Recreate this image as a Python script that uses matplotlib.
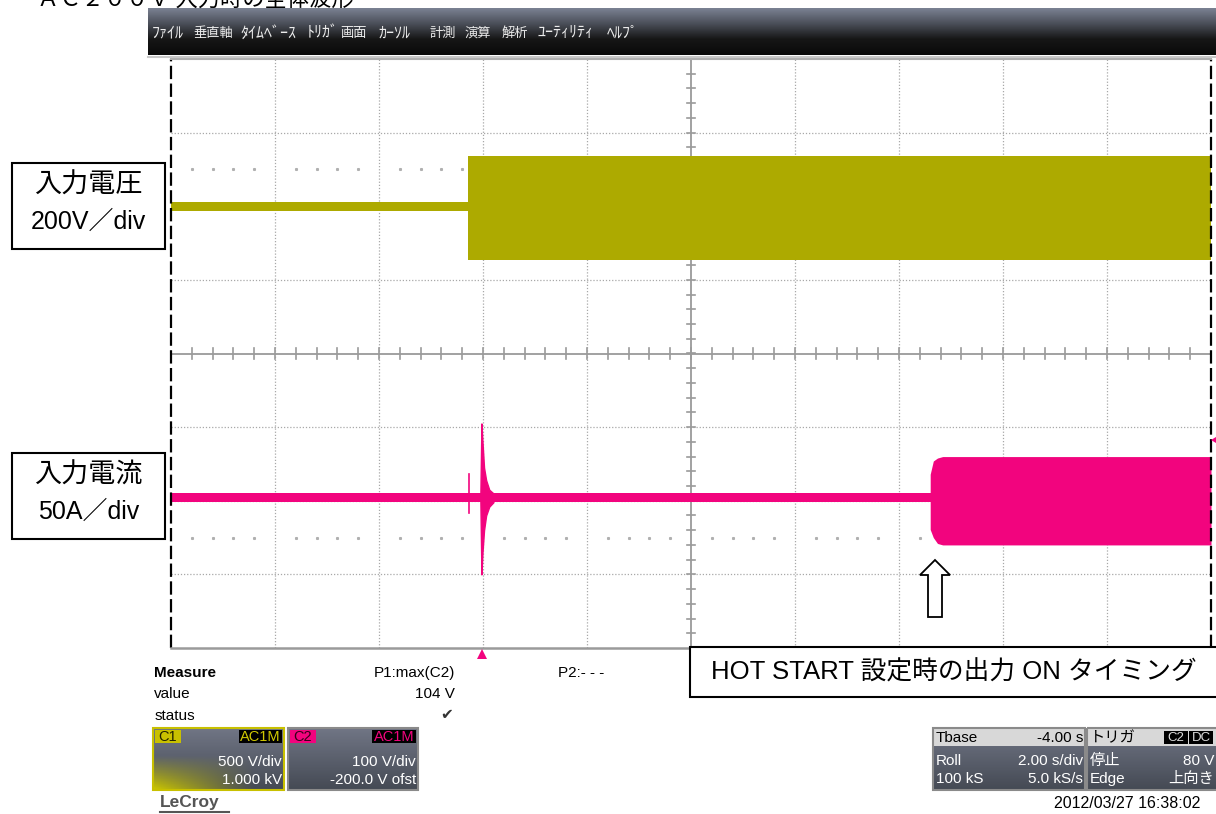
import numpy as np
import matplotlib.pyplot as plt
from matplotlib.patches import Rectangle, Polygon
from matplotlib.colors import LinearSegmentedColormap

plt.rcParams['font.family'] = ['Liberation Sans', 'Noto Sans CJK JP', 'DejaVu Sans']

W, H = 1216, 814

# C1 入力電圧 (単位: div)
volt_t = [0.0, 2.86, 2.86, 10.0]
volt_hi = [2.06, 2.06, 2.68, 2.68]
volt_lo = [1.94, 1.94, 1.27, 1.27]

# C2 入力電流 (単位: div)
curr_base_t = [0.0, 7.31]
curr_base_hi = [-1.90, -1.90]
curr_base_lo = [-2.02, -2.02]
pre_spike_t = 2.865
pre_spike_range = [-2.17, -1.64]
spike_t = [2.975, 2.985, 2.995, 3.01, 3.03, 3.06, 3.10]
spike_hi = [-1.90, -0.95, -1.20, -1.55, -1.72, -1.85, -1.90]
spike_lo = [-2.02, -3.00, -2.70, -2.40, -2.20, -2.08, -2.02]
curr_t = [7.30, 7.33, 7.37, 7.42, 10.0]
curr_hi = [-1.64, -1.46, -1.42, -1.40, -1.40]
curr_lo = [-2.39, -2.50, -2.58, -2.60, -2.60]

# 画面の文字
title = "ＡＣ２００Ｖ 入力時の全体波形"
menu_items = ["ﾌｧｲﾙ", "垂直軸", "ﾀｲﾑﾍﾞｰｽ", "ﾄﾘｶﾞ", "画面", "ｶｰｿﾙ", "計測", "演算", "解析", "ﾕｰﾃｨﾘﾃｨ", "ﾍﾙﾌﾟ"]
menu_x = [152, 193, 240, 307, 340, 379, 430, 465, 502, 538, 607]

c1 = '#ADAA00'
c2 = '#F2047E'

fig = plt.figure(figsize=(W / 100, H / 100), dpi=100)
fig.patch.set_facecolor('white')

# 波形エリア
ax = fig.add_axes([171 / W, (H - 648) / H, 1040 / W, 589 / H])
ax.set_xlim(0, 10)
ax.set_ylim(-4, 4)
ax.axis('off')

gcol = '#a8a8a8'
for i in range(1, 10):
    if i != 5:
        ax.axvline(i, color=gcol, ls=(0, (1, 1.5)), lw=0.9, zorder=1)
for j in range(-3, 4):
    if j != 0:
        ax.axhline(j, color=gcol, ls=(0, (1, 1.5)), lw=0.9, zorder=1)
ax.axhline(0, color='#9a9a9a', lw=1.3, zorder=1)
ax.axvline(5, color='#9a9a9a', lw=1.3, zorder=1)
for t in np.arange(0.2, 10, 0.2):
    ax.plot([t, t], [-0.07, 0.07], color='#9a9a9a', lw=1.2, zorder=1)
for t in np.arange(-3.8, 4, 0.2):
    ax.plot([4.96, 5.04], [t, t], color='#9a9a9a', lw=1.2, zorder=1)
dots = [x for x in np.arange(0.2, 10, 0.2) if abs(x - round(x)) > 0.05]
for yy in (2.5, -2.5):
    ax.plot(dots, [yy] * len(dots), ls='none', marker='s', ms=1.2, color='#b0b0b0', zorder=1)

ax.plot([0, 0], [-4, 4], color='k', ls=(0, (6, 2)), lw=1.6, clip_on=False, zorder=3)
ax.plot([10, 10], [-4, 4], color='k', ls=(0, (6, 2)), lw=1.6, clip_on=False, zorder=3)
ax.plot([0, 10], [4, 4], color='#b0b0b0', lw=1.5, clip_on=False, zorder=3)
ax.plot([0, 10], [-4, -4], color='#9a9a9a', lw=1.8, clip_on=False, zorder=3)

# 波形
ax.fill_between(volt_t, volt_lo, volt_hi, color=c1, lw=0, zorder=2)
ax.fill_between(curr_base_t, curr_base_lo, curr_base_hi, color=c2, lw=0, zorder=2)
ax.plot([pre_spike_t, pre_spike_t], pre_spike_range, color=c2, lw=1.2, zorder=2)
ax.fill_between(spike_t, spike_lo, spike_hi, color=c2, lw=1.0, ec=c2, zorder=2)
ax.fill_between(curr_t, curr_lo, curr_hi, color=c2, lw=0, zorder=2)

# 全体の座標 (ピクセル)
ov = fig.add_axes([0, 0, 1, 1], zorder=5)
ov.set_xlim(0, W)
ov.set_ylim(H, 0)
ov.axis('off')
ov.patch.set_alpha(0)

ov.text(37, 6, title, fontsize=16, va='baseline', ha='left', color='k',
        family=['Noto Sans CJK JP', 'DejaVu Sans'])

menu_cmap = LinearSegmentedColormap.from_list('m', ['#7a8192', '#4a4e58', '#161616', '#0a0a0a'])
ov.imshow(np.linspace(0, 1, 60)[:, None], extent=[148, W, 55, 8], aspect='auto', cmap=menu_cmap, zorder=1)
ov.plot([148, W], [56.5, 56.5], color='#c8c8c8', lw=1.5)
for name, x in zip(menu_items, menu_x):
    kana = all('\uff61' <= ch <= '\uff9f' for ch in name)
    ov.text(x, 33, name, fontsize=11.5 if kana else 9.5, color='#ececec', va='center', ha='left',
            family=['Noto Sans CJK JP', 'DejaVu Sans'])

# 左側のラベル
for top, l1, l2 in [(163, "入力電圧", "200V／div"), (453, "入力電流", "50A／div")]:
    ov.add_patch(Rectangle((12, top), 153, 86, fc='white', ec='k', lw=1.5))
    ov.text(88.5, top + 22, l1, fontsize=19.5, ha='center', va='center',
            family=['Noto Sans CJK JP', 'DejaVu Sans'])
    ov.text(88.5, top + 59, l2, fontsize=18, ha='center', va='center',
            family=['Liberation Sans', 'Noto Sans CJK JP'])

# HOT START 注記
ov.add_patch(Rectangle((690, 647), 540, 50, fc='white', ec='k', lw=1.5, zorder=4))
ov.text(711, 672, "HOT START 設定時の出力 ON タイミング", fontsize=18.5, ha='left', va='center',
        family=['Liberation Sans', 'Noto Sans CJK JP'], zorder=5)
ov.add_patch(Polygon([(935, 560), (950, 575), (942, 575), (942, 617), (928, 617), (928, 575), (920, 575)],
                     closed=True, fc='white', ec='k', lw=1.3, zorder=4))

# トリガ位置
ov.add_patch(Polygon([(477, 659), (487, 659), (482, 649)], closed=True, fc=c2, ec='none'))
ov.add_patch(Polygon([(1211, 440), (1216, 437), (1216, 443)], closed=True, fc=c2, ec='none'))

# Measure
fs = 11
ov.text(154, 673, "Measure", fontsize=fs, fontweight='bold', va='center')
ov.text(154, 694, "value", fontsize=fs, va='center')
ov.text(155, 716, "status", fontsize=fs, va='center')
ov.text(455, 673, "P1:max(C2)", fontsize=fs, va='center', ha='right')
ov.text(455, 694, "104 V", fontsize=fs, va='center', ha='right')
ov.text(453, 715, "✔", fontsize=fs, va='center', ha='right', color='#333333', family='DejaVu Sans')
ov.text(558, 673, "P2:- - -", fontsize=fs, va='center', ha='left')


def panel_bg(x0, y0, w, h, glow=None):
    ny, nx = 40, 80
    yy = np.linspace(0, 1, ny)[:, None]
    xx = np.linspace(0, 1, nx)[None, :]
    top = np.array([0.44, 0.46, 0.52])
    bot = np.array([0.27, 0.29, 0.33])
    img = top + (bot - top) * yy[..., None] * np.ones((1, nx, 1))
    if glow is not None:
        g = np.clip((yy - 0.45) / 0.55, 0, 1) * np.clip(1 - xx * 1.3, 0, 1)
        img = img * (1 - g[..., None]) + np.array(glow) * g[..., None]
    ov.imshow(img, extent=[x0, x0 + w, y0 + h, y0], aspect='auto', zorder=1)


# チャンネル表示
panel_bg(153, 728, 131, 62, glow=[0.80, 0.78, 0.0])
ov.add_patch(Rectangle((153, 728), 131, 62, fc='none', ec='#c8c000', lw=1.5, zorder=2))
ov.add_patch(Rectangle((155, 730), 26, 13, fc='#c8c000', ec='none', zorder=2))
ov.text(158, 737, "C1", fontsize=10.5, color='#222200', va='center', zorder=3)
ov.add_patch(Rectangle((239, 730), 43, 13, fc='black', ec='none', zorder=2))
ov.text(281, 737, "AC1M", fontsize=10.5, color='#d0c800', va='center', ha='right', zorder=3)
ov.text(282, 762, "500 V/div", fontsize=fs, color='white', va='center', ha='right', zorder=3)
ov.text(282, 780, "1.000 kV", fontsize=fs, color='white', va='center', ha='right', zorder=3)

panel_bg(288, 728, 130, 62)
ov.add_patch(Rectangle((288, 728), 130, 62, fc='none', ec='#8a8a8a', lw=1.5, zorder=2))
ov.add_patch(Rectangle((290, 730), 26, 13, fc=c2, ec='none', zorder=2))
ov.text(293, 737, "C2", fontsize=10.5, color='#330018', va='center', zorder=3)
ov.add_patch(Rectangle((372, 730), 44, 13, fc='black', ec='none', zorder=2))
ov.text(415, 737, "AC1M", fontsize=10.5, color=c2, va='center', ha='right', zorder=3)
ov.text(416, 762, "100 V/div", fontsize=fs, color='white', va='center', ha='right', zorder=3)
ov.text(416, 780, "-200.0 V ofst", fontsize=fs, color='white', va='center', ha='right', zorder=3)

ov.text(160, 803, "LeCroy", fontsize=12.5, fontweight='bold', color='#555555', va='center')
ov.plot([160, 229], [812, 812], color='#555555', lw=1.5)

# タイムベース / トリガ
panel_bg(933, 728, 152, 62)
ov.add_patch(Rectangle((933, 728), 152, 18, fc='#d8d8d8', ec='none', zorder=2))
ov.add_patch(Rectangle((933, 728), 152, 62, fc='none', ec='#8a8a8a', lw=1.5, zorder=2))
ov.text(936, 738, "Tbase", fontsize=fs, va='center', zorder=3)
ov.text(1083, 738, "-4.00 s", fontsize=fs, va='center', ha='right', zorder=3)
ov.text(936, 761, "Roll", fontsize=fs, color='white', va='center', zorder=3)
ov.text(1083, 761, "2.00 s/div", fontsize=fs, color='white', va='center', ha='right', zorder=3)
ov.text(936, 779, "100 kS", fontsize=fs, color='white', va='center', zorder=3)
ov.text(1083, 779, "5.0 kS/s", fontsize=fs, color='white', va='center', ha='right', zorder=3)

panel_bg(1087, 728, 131, 62)
ov.add_patch(Rectangle((1087, 728), 131, 18, fc='#d8d8d8', ec='none', zorder=2))
ov.add_patch(Rectangle((1087, 728), 131, 62, fc='none', ec='#8a8a8a', lw=1.5, zorder=2))
ov.text(1090, 738, "トリガ", fontsize=fs, va='center', zorder=3, family=['Noto Sans CJK JP'])
ov.add_patch(Rectangle((1164, 731), 24, 13, fc='black', ec='none', zorder=3))
ov.add_patch(Rectangle((1189, 731), 24, 13, fc='black', ec='none', zorder=3))
ov.text(1176, 738, "C2", fontsize=9.5, color='#dddddd', va='center', ha='center', zorder=4)
ov.text(1201, 738, "DC", fontsize=9.5, color='#dddddd', va='center', ha='center', zorder=4)
ov.text(1090, 761, "停止", fontsize=fs, color='white', va='center', zorder=3, family=['Noto Sans CJK JP'])
ov.text(1214, 761, "80 V", fontsize=fs, color='white', va='center', ha='right', zorder=3)
ov.text(1090, 779, "Edge", fontsize=fs, color='white', va='center', zorder=3)
ov.text(1214, 779, "上向き", fontsize=fs, color='white', va='center', ha='right', zorder=3,
        family=['Noto Sans CJK JP'])

ov.text(1200, 803, "2012/03/27 16:38:02", fontsize=11.5, va='center', ha='right')

fig.savefig('out.png', dpi=100)
